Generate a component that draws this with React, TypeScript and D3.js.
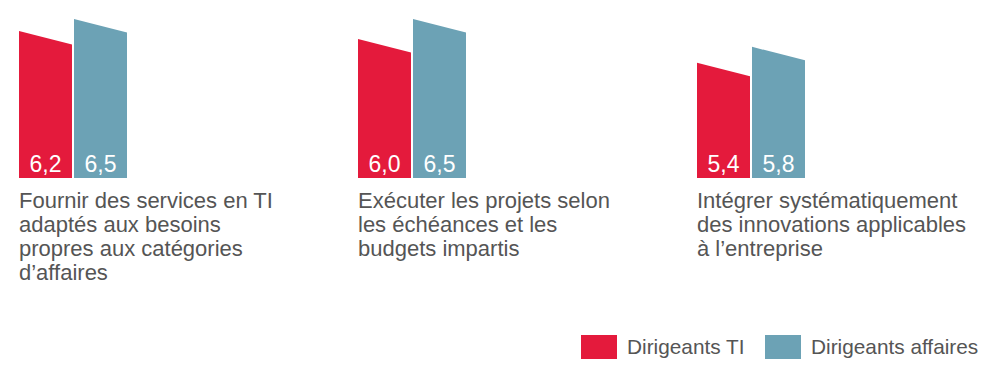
import React from "react";
import * as d3 from "d3";

const categories = [
  ["Fournir des services en TI", "adaptés aux besoins", "propres aux catégories", "d’affaires"],
  ["Exécuter les projets selon", "les échéances et les", "budgets impartis"],
  ["Intégrer systématiquement", "des innovations applicables", "à l’entreprise"],
];
const seriesNames = ["Dirigeants TI", "Dirigeants affaires"];
const itValues = [6.2, 6.0, 5.4];
const businessValues = [6.5, 6.5, 5.8];
const labelsIT = ["6,2", "6,0", "5,4"];
const labelsBusiness = ["6,5", "6,5", "5,8"];
const colors = ["#E41A3C", "#6CA2B5"];

const FONT = "'Liberation Sans', Arial, Helvetica, sans-serif";
const TEXT = "#555555";

export default function App() {
  const bottom = 178;
  const slant = 13.5;
  const groupIdx = categories.map((_, i) => String(i));
  const x0 = d3.scaleBand<string>().domain(groupIdx).range([19, 19 + 3 * 339]).paddingInner(0).paddingOuter(0);
  const x1 = d3.scaleBand<string>().domain(seriesNames).range([0, 108]).paddingInner(2 / 55).paddingOuter(0);
  const y = d3.scaleLinear().domain([2.5, 6.5]).range([bottom, 19]);
  const values = [itValues, businessValues];
  const labels = [labelsIT, labelsBusiness];
  const bw = x1.bandwidth();

  return (
    <svg width={1000} height={380} style={{ position: "absolute", left: 0, top: 0, background: "#fff" }}>
      {groupIdx.map((g, gi) => {
        const gx = x0(g)!;
        return (
          <g key={g}>
            {seriesNames.map((s, si) => {
              const bx = gx + x1(s)!;
              const v = values[si][gi];
              const top = y(v);
              const path = d3.path();
              path.moveTo(bx, top);
              path.lineTo(bx + bw, top + slant);
              path.lineTo(bx + bw, bottom);
              path.lineTo(bx, bottom);
              path.closePath();
              return (
                <g key={s}>
                  <path d={path.toString()} fill={colors[si]} />
                  <text
                    x={bx + bw / 2}
                    y={171.5}
                    textAnchor="middle"
                    fill="#fff"
                    fontFamily={FONT}
                    fontSize={23}
                  >
                    {labels[si][gi]}
                  </text>
                </g>
              );
            })}
            <text x={gx} y={208} fill={TEXT} fontFamily={FONT} fontSize={22}>
              {categories[gi].map((line, li) => (
                <tspan key={li} x={gx} dy={li === 0 ? 0 : 24}>
                  {line}
                </tspan>
              ))}
            </text>
          </g>
        );
      })}
      {seriesNames.map((s, si) => {
        const lx = [581, 765][si];
        return (
          <g key={s}>
            <rect x={lx} y={335} width={36} height={24} fill={colors[si]} />
            <text x={lx + 46} y={354} fill={TEXT} fontFamily={FONT} fontSize={20.8}>
              {s}
            </text>
          </g>
        );
      })}
    </svg>
  );
}
